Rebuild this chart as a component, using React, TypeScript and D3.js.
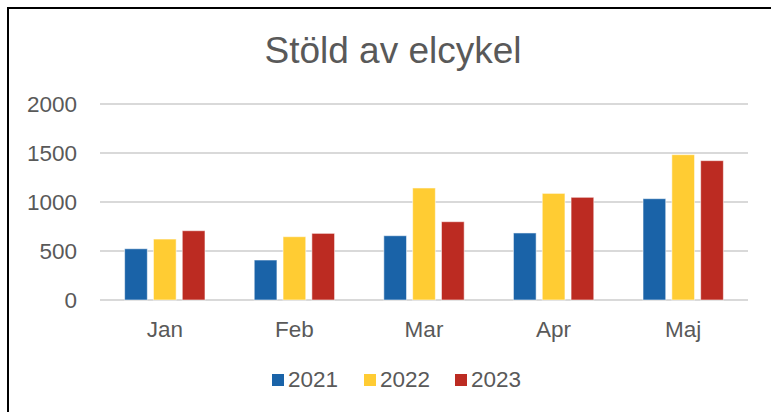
import React from "react";
import * as d3 from "d3";

const categories = ["Jan", "Feb", "Mar", "Apr", "Maj"];
const seriesNames = ["2021", "2022", "2023"];
const values2021 = [523, 408, 656, 684, 1034];
const values2022 = [622, 646, 1143, 1088, 1483];
const values2023 = [707, 680, 799, 1048, 1422];
const seriesColors = ["#1a63a8", "#ffcc33", "#bc2b22"];
const yTicks = [0, 500, 1000, 1500, 2000];
const title = "Stöld av elcykel";

const W = 771;
const H = 412;
const FONT = "'Liberation Sans', Arial, sans-serif";
const TEXT = "#595959";

export default function App() {
  const seriesValues = [values2021, values2022, values2023];
  const x0 = d3
    .scaleBand<string>()
    .domain(categories)
    .range([100, 748])
    .paddingInner(0.38)
    .paddingOuter(0.19);
  const x1 = d3
    .scaleBand<string>()
    .domain(seriesNames)
    .range([0, x0.bandwidth()])
    .paddingInner(0.212)
    .paddingOuter(0);
  const y = d3.scaleLinear().domain([0, 2000]).range([300, 104]);

  const legendX = [272, 364, 455];

  return (
    <svg
      width={W}
      height={H}
      style={{ position: "fixed", left: 0, top: 0, background: "#fff" }}
      fontFamily={FONT}
    >
      <rect x={0} y={0} width={W} height={H} fill="#fff" />
      <rect x={8} y={8} width={900} height={600} fill="none" stroke="#000" strokeWidth={2} />
      <text x={393} y={63} textAnchor="middle" fontSize={37} fill={TEXT}>
        {title}
      </text>
      {yTicks.map((t) => (
        <g key={t}>
          <line x1={100} x2={748} y1={y(t)} y2={y(t)} stroke="#d9d9d9" strokeWidth={2} />
          <text x={77} y={y(t)} dy="0.36em" textAnchor="end" fontSize={22.5} fill={TEXT}>
            {t}
          </text>
        </g>
      ))}
      {categories.map((c, i) => (
        <g key={c} transform={`translate(${x0(c)},0)`}>
          {seriesNames.map((s, j) => (
            <rect
              key={s}
              x={x1(s)}
              y={y(seriesValues[j][i])}
              width={x1.bandwidth()}
              height={y(0) - y(seriesValues[j][i])}
              fill={seriesColors[j]}
              stroke="#ffffff"
              strokeOpacity={0.55}
              strokeWidth={1}
            />
          ))}
          <text
            x={x0.bandwidth() / 2}
            y={337}
            textAnchor="middle"
            fontSize={22.5}
            fill={TEXT}
          >
            {c}
          </text>
        </g>
      ))}
      {seriesNames.map((s, j) => (
        <g key={s} transform={`translate(${legendX[j]},0)`}>
          <rect x={0} y={374} width={12} height={12} fill={seriesColors[j]} />
          <text x={16} y={387} fontSize={22.5} fill={TEXT}>
            {s}
          </text>
        </g>
      ))}
    </svg>
  );
}
